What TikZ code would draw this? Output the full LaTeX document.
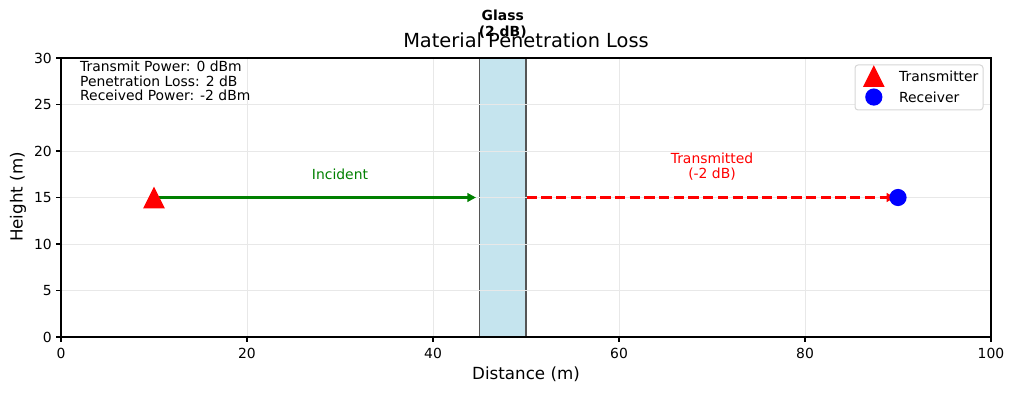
\documentclass[tikz,border=0pt]{standalone}
\usepackage{fontspec}
\setmainfont{DejaVu Sans}
\usetikzlibrary{arrows.meta}
\definecolor{mplgreen}{HTML}{008000}
\definecolor{glassfill}{HTML}{C5E4EE}
\definecolor{glassedge}{HTML}{555555}
\definecolor{gridc}{HTML}{E8E8E8}
\definecolor{legedge}{HTML}{D6D6D6}
\tikzset{
  ticklab/.style={font=\fontsize{13.9}{16}\selectfont, inner sep=0pt},
  axlab/.style={font=\fontsize{16.7}{19}\selectfont, inner sep=0pt},
  smalltext/.style={font=\fontsize{13.9}{14.6}\selectfont, inner sep=0pt, align=center},
  gridline/.style={gridc, line width=0.9pt},
  ticklinestyle/.style={black, line width=1.1pt},
  arrowline/.style={line width=2.7pt, -{Triangle[length=8.5pt,width=8.5pt]}, shorten >=2.8pt},
}
\begin{document}
\begin{tikzpicture}[x=9.3pt,y=9.3pt,shift={(61pt,57pt)}]
\useasboundingbox (-6.559,-6.129) rectangle (102.473,36.237);
% glass patch
\node[draw=glassedge, fill=glassfill, line width=1.5pt, minimum width=46.5pt, minimum height=279pt, inner sep=0pt] (glass) at (47.5,15) {};
% grid
\foreach \gx in {20,40,60,80} \draw[gridline] (\gx,0) -- (\gx,30);
\foreach \gy in {5,10,15,20,25} \draw[gridline] (0,\gy) -- (100,\gy);
% frame
\draw[ticklinestyle] (0,0) rectangle (100,30);
% ticks
\foreach \gx in {0,20,40,60,80,100} {
  \draw[ticklinestyle] (\gx,0) -- ++(0,-4.9pt);
  \node[ticklab, anchor=base] at (\gx,-2.26) {\gx};
}
\foreach \gy in {0,5,10,15,20,25,30} {
  \draw[ticklinestyle] (0,\gy) -- ++(-4.9pt,0);
  \node[ticklab, anchor=east] at (-0.97,\gy) {\gy};
}
% axis labels
\node[axlab] (xlabel) at (50,-3.98) {Distance (m)};
\node[axlab, rotate=90] (ylabel) at (-4.62,15.05) {Height (m)};
% glass label and title
\node[smalltext, font=\fontsize{13.9}{16}\selectfont\bfseries] (glasslabel) at (47.5,33.6) {Glass\\(2 dB)};
\node[font=\fontsize{19.4}{22}\selectfont, inner sep=0pt, anchor=base] (title) at (50,31.08) {Material Penetration Loss};
% info text
\node[smalltext, align=left, anchor=north west] (info) at (2.04,29.68) {Transmit Power: 0 dBm\\Penetration Loss: 2 dB\\Received Power: -2 dBm};
% endpoints
\coordinate (tx) at (10,15);
\coordinate (rx) at (90,15);
% arrows
\draw[arrowline, mplgreen] (tx) -- (glass.west |- tx);
\draw[arrowline, red, dash pattern=on 10.3pt off 4.4pt] (glass.east |- rx) -- (rx);
% markers
\fill[red] (tx) ++(0,10.8pt) -- ++(-10.8pt,-21.6pt) -- ++(21.6pt,0) -- cycle;
\fill[blue] (rx) circle (8.6pt);
% labels
\node[smalltext, text=mplgreen] (inclabel) at (30,17.53) {Incident};
\node[smalltext, text=red, font=\fontsize{13.9}{15}\selectfont] (translabel) at (70,18.33) {Transmitted\\(-2 dB)};
% legend
\draw[legedge, line width=1pt, rounded corners=3pt, fill=white] (85.38,24.41) rectangle (99.14,29.25);
\coordinate (legtx) at (87.4,28.06);
\coordinate (legrx) at (87.4,25.8);
\fill[red] (legtx) ++(0,10.8pt) -- ++(-10.8pt,-21.6pt) -- ++(21.6pt,0) -- cycle;
\fill[blue] (legrx) circle (8.6pt);
\node[ticklab, anchor=west] (legtxt1) at (90.1,28.06) {Transmitter};
\node[ticklab, anchor=west] (legtxt2) at (90.1,25.8) {Receiver};
\end{tikzpicture}
\end{document}
